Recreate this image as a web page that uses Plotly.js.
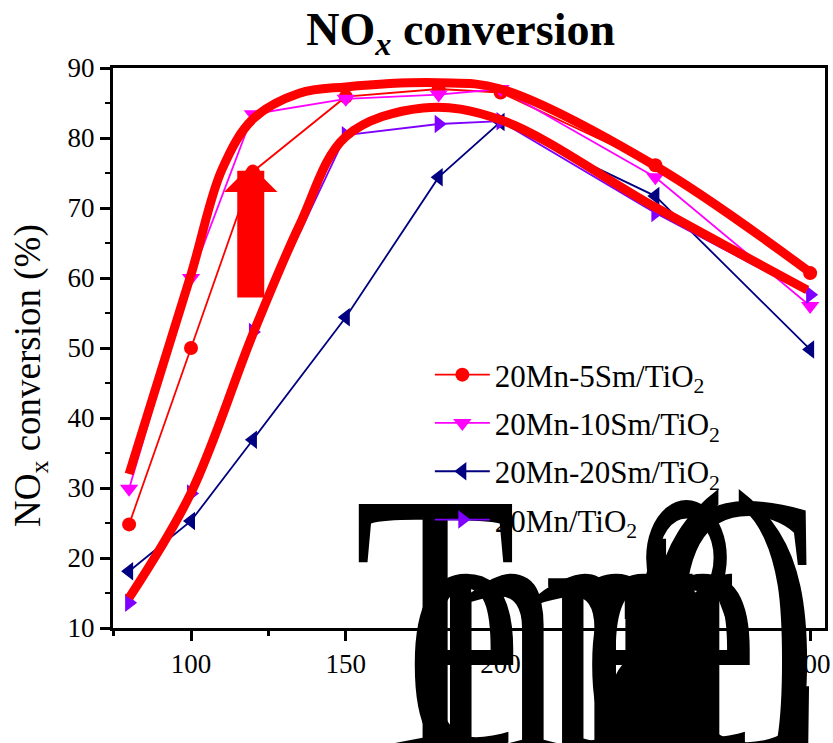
<!DOCTYPE html>
<html>
<head>
<meta charset="utf-8">
<script src="https://cdn.plot.ly/plotly-3.0.1.min.js"></script>
<style>html,body{margin:0;padding:0;background:#fff;}#chart{width:833px;height:743px;}</style>
</head>
<body>
<div id="chart"></div>
<script>
// ---- data ----
const temps = [80, 100, 120, 150, 180, 200, 250, 300];
const sm5  = [24.8, 50.0, 75.2, 85.9, 87.0, 86.5, 76.1, 60.7];
const sm10 = [29.9, 60.0, 83.4, 85.6, 86.2, 87.0, 74.4, 56.0];
const sm20 = [18.1, 25.3, 36.9, 54.4, 74.4, 82.3, 71.7, 49.8];
const mn0  = [13.6, 29.2, 52.3, 80.4, 82.0, 82.4, 69.3, 57.6];
const seriesNames = ['20Mn-5Sm/TiO<sub>2</sub>', '20Mn-10Sm/TiO<sub>2</sub>', '20Mn-20Sm/TiO<sub>2</sub>', '20Mn/TiO<sub>2</sub>'];

// hand-drawn highlight curves
const hiUpperX = [80, 100, 110, 120, 135, 150, 180, 200, 250, 300];
const hiUpperY = [32.0, 60.5, 75.5, 82.7, 86.4, 87.3, 87.9, 87.0, 76.0, 60.8];
const hiLowerX = [80, 100, 120, 135, 150, 175, 200, 250, 299];
const hiLowerY = [14.3, 29.3, 52.0, 67.5, 80.2, 84.3, 82.6, 70.1, 58.3];

// red arrow (tail -> tip)
const arrowX = 119.3, arrowTailY = 57.0, arrowTipY = 76.1;

const xTicks = [100, 150, 200, 250, 300];
const yTicks = [10, 20, 30, 40, 50, 60, 70, 80, 90];

const FONT = 'Liberation Serif, Times New Roman, serif';
const XTITLE_SIZE = 380;

const styles = [
  {color: '#ff0000', symbol: 'circle', size: 14},
  {color: '#ff00ff', symbol: 'triangle-down', size: 16},
  {color: '#000080', symbol: 'triangle-left', size: 16},
  {color: '#7f00ff', symbol: 'triangle-right', size: 16}
];
const ys = [sm5, sm10, sm20, mn0];

const traces = ys.map((y, i) => ({
  x: temps, y: y, name: seriesNames[i], legendgroup: 'g' + i, type: 'scatter', mode: 'lines+markers',
  line: {color: styles[i].color, width: 1.8},
  marker: {color: styles[i].color, symbol: styles[i].symbol, size: styles[i].size}
}));
traces.push({x: hiUpperX, y: hiUpperY, type: 'scatter', mode: 'lines', showlegend: false, hoverinfo: 'skip',
  line: {color: '#ff0000', width: 9, shape: 'spline', smoothing: 1}});
traces.push({x: hiLowerX, y: hiLowerY, type: 'scatter', mode: 'lines', showlegend: false, hoverinfo: 'skip',
  line: {color: '#ff0000', width: 9, shape: 'spline', smoothing: 1}});

const layout = {
  width: 833, height: 743,
  margin: {l: 113, r: 8, t: 68, b: 115},
  paper_bgcolor: '#fff', plot_bgcolor: '#fff',
  font: {family: FONT, color: '#000', size: 27},
  showlegend: true,
  title: {text: 'NO<sub><i>x</i></sub> conversion', font: {family: FONT, size: 46, weight: 'bold', color: '#000'},
          x: 0.553, xref: 'container', xanchor: 'center', y: 0.961, yanchor: 'middle'},
  xaxis: {
    range: [74.8, 304.8], tickvals: xTicks, ticktext: xTicks.map(String),
    ticks: 'outside', ticklen: 10, tickwidth: 3, tickcolor: '#000',
    minor: {dtick: 25, tick0: 75, ticks: 'outside', ticklen: 5, tickwidth: 2.5, tickcolor: '#000'},
    showline: true, linewidth: 3, linecolor: '#000', mirror: true,
    showgrid: false, zeroline: false,
    tickfont: {family: FONT, size: 27},
    title: {text: 'Temperature (°C)', font: {family: FONT, size: XTITLE_SIZE, color: '#000'}, standoff: 0}
  },
  yaxis: {
    range: [10, 90], tickvals: yTicks, ticktext: yTicks.map(String),
    ticks: 'outside', ticklen: 10, tickwidth: 3, tickcolor: '#000',
    minor: {dtick: 5, ticks: 'outside', ticklen: 5, tickwidth: 2.5, tickcolor: '#000'},
    showline: true, linewidth: 3, linecolor: '#000', mirror: true,
    showgrid: false, zeroline: false,
    tickfont: {family: FONT, size: 27}
  },
  legend: {x: 0.445, xanchor: 'left', y: 0.5, yanchor: 'top', bgcolor: 'rgba(0,0,0,0)',
           font: {family: FONT, size: 31}, itemwidth: 55, tracegroupgap: 5},
  annotations: [
    {text: 'NO<sub>x</sub> conversion (%)', xref: 'paper', yref: 'paper', textangle: -90,
     x: (30 - 113) / 712, y: (628 - 376) / 560, xanchor: 'center', yanchor: 'middle', showarrow: false,
     font: {family: FONT, size: 37, color: '#000'}},
    {text: '', x: arrowX, y: arrowTipY, ax: arrowX, ay: arrowTailY, xref: 'x', yref: 'y', axref: 'x', ayref: 'y',
     showarrow: true, arrowhead: 1, arrowsize: 0.33, arrowwidth: 27, arrowcolor: '#ff0000', standoff: 0, startstandoff: 0}
  ]
};

Plotly.newPlot('chart', traces, layout, {displayModeBar: false, staticPlot: true}).then(gd => {
  // squeeze the oversized axis title the way the reference renders it
  const t = gd.querySelector('.g-xtitle text');
  if (t) {
    const x0 = 354, base = 753, F = XTITLE_SIZE;
    t.removeAttribute('dy');
    t.setAttribute('text-anchor', 'start');
    t.setAttribute('x', x0);
    t.setAttribute('y', base);
    t.setAttribute('textLength', 664);
    t.setAttribute('lengthAdjust', 'spacing');
    t.setAttribute('transform', 'translate(' + x0 + ',0) scale(0.7,1) translate(' + (-x0) + ',0)');
    const r = t.getBoundingClientRect();
    const wantTop = base - 0.891 * F;
    t.setAttribute('y', base + (wantTop - r.top));
  }
  const leg = gd.querySelector('.infolayer .legend');
  if (leg && leg.parentNode) leg.parentNode.appendChild(leg);
});
</script>
</body>
</html>
